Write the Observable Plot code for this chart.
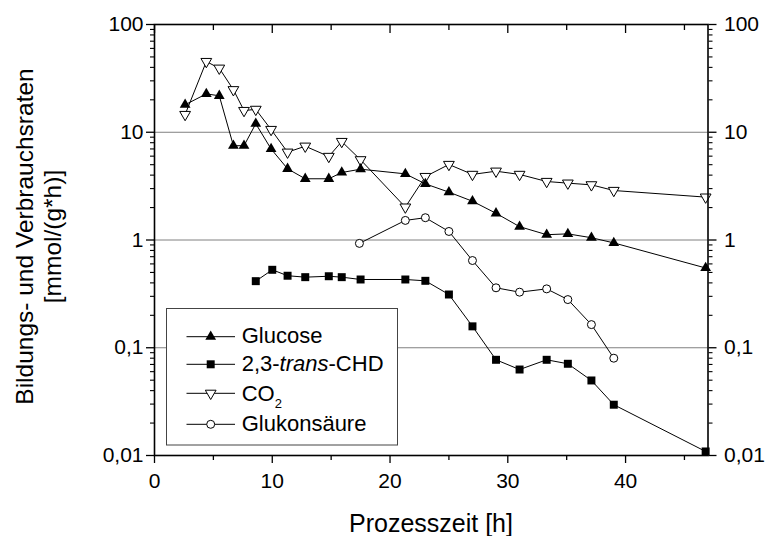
<!DOCTYPE html>
<html>
<head>
<meta charset="utf-8">
<script src="https://cdn.jsdelivr.net/npm/d3@7"></script>
<script src="https://cdn.jsdelivr.net/npm/@observablehq/plot@0.6"></script>
<style>
  body { margin: 0; background: #fff; }
  svg { display: block; }
</style>
</head>
<body>
<div id="chart"></div>
<script>
// Process time [h] for glucose and CO2 samples
const timeMain = [2.6, 4.4, 5.5, 6.7, 7.6, 8.6, 9.9, 11.3, 12.8, 14.8, 15.9, 17.5,
                  21.3, 23.0, 25.0, 27.0, 29.0, 31.0, 33.3, 35.1, 37.1, 39.0, 46.8];
// Rates [mmol/(g*h)]
const glucose = [18.0, 22.7, 21.8, 7.5, 7.5, 12.0, 7.0, 4.58, 3.70, 3.70, 4.23, 4.54,
                 4.11, 3.32, 2.78, 2.29, 1.77, 1.33, 1.12, 1.14, 1.05, 0.94, 0.55];
const co2 = [14.6, 45.3, 39.3, 24.8, 15.9, 16.3, 10.6, 6.53, 7.42, 5.96, 8.2, 5.55,
             2.02, 3.88, 5.02, 4.06, 4.35, 4.06, 3.49, 3.37, 3.25, 2.88, 2.5];

const timeChd = [8.6, 10.0, 11.3, 12.8, 14.8, 15.9, 17.5, 21.3, 23.0, 25.0, 27.0, 29.0,
                 31.0, 33.3, 35.1, 37.1, 39.0, 46.8];
const chd = [0.415, 0.529, 0.466, 0.452, 0.461, 0.452, 0.43, 0.43, 0.418, 0.312, 0.158,
             0.0773, 0.0628, 0.0773, 0.071, 0.0497, 0.0296, 0.0109];

const timeGluk = [17.4, 21.3, 23.0, 25.0, 27.0, 29.0, 31.0, 33.3, 35.1, 37.1, 39.0];
const gluk = [0.93, 1.52, 1.61, 1.2, 0.645, 0.36, 0.328, 0.352, 0.28, 0.164, 0.080];

const seriesNames = ["Glucose", "2,3-trans-CHD", "CO2", "Glukonsäure"];

const xTicks = [0, 10, 20, 30, 40];
const xMinorTicks = [5, 15, 25, 35, 45];
const yTicks = [0.01, 0.1, 1, 10, 100];
const yTickLabels = ["0,01", "0,1", "1", "10", "100"];
const gridValues = [0.1, 1, 10];

const xTitle = "Prozesszeit [h]";
const yTitle = ["Bildungs- und Verbrauchsraten", "[mmol/(g*h)]"];

// minor log ticks 2..9 in every decade
const yMinorTicks = d3.range(-2, 2).flatMap(e => d3.range(2, 10).map(m => m * Math.pow(10, e)));

const rows = (t, v) => t.map((x, i) => ({x, y: v[i]}));
const gluData = rows(timeMain, glucose);
const co2Data = rows(timeMain, co2);
const chdData = rows(timeChd, chd);
const glkData = rows(timeGluk, gluk);

const sqrt3 = Math.sqrt(3);
const triangleUp = {
  draw(ctx, size) {
    const y = -Math.sqrt(size / (sqrt3 * 3));
    ctx.moveTo(0, y * 2);
    ctx.lineTo(-sqrt3 * y, -y);
    ctx.lineTo(sqrt3 * y, -y);
    ctx.closePath();
  }
};
const triangleDown = {
  draw(ctx, size) {
    const y = Math.sqrt(size / (sqrt3 * 3));
    ctx.moveTo(0, y * 2);
    ctx.lineTo(-sqrt3 * y, -y);
    ctx.lineTo(sqrt3 * y, -y);
    ctx.closePath();
  }
};

const triR = 4, sqR = 4.5, circR = 4;
const yFmt = d => yTickLabels[yTicks.indexOf(d)];

const lineOpts = {x: "x", y: "y", stroke: "black", strokeWidth: 1};

const chart = Plot.plot({
  width: 766,
  height: 536,
  marginLeft: 154,
  marginRight: 58.5,
  marginTop: 24,
  marginBottom: 81,
  x: {domain: [0, 47], label: null},
  y: {type: "log", domain: [0.01, 100], label: null},
  style: {
    fontFamily: "'Liberation Sans', Arial, sans-serif",
    fontSize: "21px",
    color: "black",
    background: "white"
  },
  marks: [
    Plot.ruleY(gridValues, {stroke: "#808080", strokeWidth: 1}),
    Plot.line(gluData, lineOpts),
    Plot.line(co2Data, lineOpts),
    Plot.line(chdData, lineOpts),
    Plot.line(glkData, lineOpts),
    Plot.dot(co2Data, {x: "x", y: "y", symbol: triangleDown, r: triR, fill: "white", stroke: "black", strokeWidth: 1}),
    Plot.dot(glkData, {x: "x", y: "y", symbol: "circle", r: circR, fill: "white", stroke: "black", strokeWidth: 1}),
    Plot.dot(chdData, {x: "x", y: "y", symbol: "square", r: sqR, fill: "black", stroke: "none"}),
    Plot.dot(gluData, {x: "x", y: "y", symbol: triangleUp, r: triR, fill: "black", stroke: "none"}),
    // bottom axis
    Plot.axisX(xTicks, {anchor: "bottom", tickSize: 8, tickPadding: 10, strokeWidth: 1.3, label: null}),
    Plot.axisX(xMinorTicks, {anchor: "bottom", tickSize: 5, fill: "none", strokeWidth: 1.3, label: null}),
    // top axis, ticks pointing inward
    Plot.axisX(xTicks, {anchor: "top", tickSize: 8, dy: 8, fill: "none", strokeWidth: 1.3, label: null}),
    Plot.axisX(xMinorTicks, {anchor: "top", tickSize: 5, dy: 5, fill: "none", strokeWidth: 1.3, label: null}),
    // left axis
    Plot.axisY(yTicks, {anchor: "left", tickSize: 8, tickPadding: 3, tickFormat: yFmt, strokeWidth: 1.3, label: null}),
    Plot.axisY(yMinorTicks, {anchor: "left", tickSize: 4, fill: "none", strokeWidth: 1.1, label: null}),
    // right axis
    Plot.axisY(yTicks, {anchor: "right", tickSize: 8, tickPadding: 8, tickFormat: yFmt, strokeWidth: 1.3, label: null}),
    Plot.axisY(yMinorTicks, {anchor: "right", tickSize: 4, fill: "none", strokeWidth: 1.1, label: null}),
    Plot.frame({stroke: "black", strokeWidth: 1.6})
  ]
});

document.getElementById("chart").appendChild(chart);

const svg = d3.select(chart);
const font = "'Liberation Sans', Arial, sans-serif";

// axis titles
svg.append("text")
  .attr("x", 431).attr("y", 531.5)
  .attr("text-anchor", "middle")
  .attr("font-family", font).attr("font-size", 25).attr("fill", "black")
  .text(xTitle);

const yTitleBaselines = [33, 61];
yTitle.forEach((t, i) => {
  svg.append("text")
    .attr("transform", `translate(${yTitleBaselines[i]},236.5) rotate(-90)`)
    .attr("text-anchor", "middle")
    .attr("font-family", font).attr("font-size", 24.5).attr("fill", "black")
    .text(t);
});

// legend
const lg = svg.append("g")
  .attr("font-family", font).attr("font-size", 22).attr("fill", "black")
  .attr("text-anchor", "start");
lg.append("rect")
  .attr("x", 166.5).attr("y", 308.5).attr("width", 231).attr("height", 136.5)
  .attr("fill", "white").attr("stroke", "#444").attr("stroke-width", 1);

const legendItems = [
  {name: seriesNames[0], symbol: triangleUp, size: Math.PI * triR * triR, fill: "black", stroke: "none", my: 336.7, ty: 343},
  {name: seriesNames[1], symbol: d3.symbolSquare, size: Math.PI * sqR * sqR, fill: "black", stroke: "none", my: 364.3, ty: 371},
  {name: seriesNames[2], symbol: triangleDown, size: Math.PI * triR * triR, fill: "white", stroke: "black", my: 393.3, ty: 400.5},
  {name: seriesNames[3], symbol: d3.symbolCircle, size: Math.PI * circR * circR, fill: "white", stroke: "black", my: 424.3, ty: 431}
];

legendItems.forEach((it, i) => {
  lg.append("line")
    .attr("x1", 186.5).attr("x2", 235).attr("y1", it.my).attr("y2", it.my)
    .attr("stroke", "black").attr("stroke-width", 1);
  lg.append("path")
    .attr("transform", `translate(210.7,${it.my})`)
    .attr("d", d3.symbol(it.symbol, it.size)())
    .attr("fill", it.fill).attr("stroke", it.stroke).attr("stroke-width", 1);
  const t = lg.append("text").attr("x", 241.7).attr("y", it.ty).attr("text-anchor", "start");
  if (i === 1) {
    t.append("tspan").text("2,3-");
    t.append("tspan").attr("font-style", "italic").text("trans");
    t.append("tspan").text("-CHD");
  } else if (i === 2) {
    t.append("tspan").text("CO");
    t.append("tspan").attr("font-size", 13).attr("dy", 7).text("2");
  } else {
    t.text(it.name);
  }
});
</script>
</body>
</html>
